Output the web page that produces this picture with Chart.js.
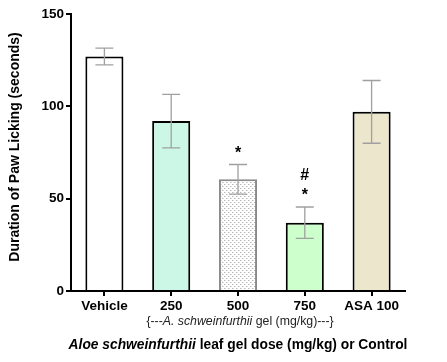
<!DOCTYPE html>
<html>
<head>
<meta charset="utf-8">
<script src="https://cdn.jsdelivr.net/npm/chart.js@4.4.1/dist/chart.umd.min.js"></script>
<style>
  body { margin: 0; background: #fff; }
  #wrap { width: 447px; height: 362px; }
</style>
</head>
<body>
<div id="wrap"><canvas id="myChart" width="447" height="362"></canvas></div>
<script>
// data
var groups = ['Vehicle', '250', '500', '750', 'ASA 100'];
var means = [127, 92, 60.5, 37, 97];
var sems = [4.5, 14.5, 8, 8.5, 17];
var marks = [[], [], ['*'], ['*', '#'], []];

var yTitle = 'Duration of Paw Licking (seconds)';
var subTitle = [['{---', ''], ['A. schweinfurthii', 'italic '], [' gel (mg/kg)---}', '']];
var xTitle = [['Aloe schweinfurthii', 'italic bold '], [' leaf gel dose (mg/kg) or Control', 'bold ']];

var FONT = 'Arial, "Liberation Sans", sans-serif';

function dotPattern() {
    var c = document.createElement('canvas');
    c.width = 4; c.height = 4;
    var g = c.getContext('2d');
    g.fillStyle = '#ffffff';
    g.fillRect(0, 0, 4, 4);
    g.fillStyle = '#b8b8b8';
    g.fillRect(0, 0, 1, 1);
    g.fillRect(2, 2, 1, 1);
    g.fillStyle = '#dcdcdc';
    g.fillRect(1, 0, 1, 1);
    g.fillRect(3, 2, 1, 1);
    return document.getElementById('myChart').getContext('2d').createPattern(c, 'repeat');
}

function drawMixed(ctx, parts, cx, y, size, color) {
    var total = 0;
    parts.forEach(function (p) {
        ctx.font = p[1] + size + 'px ' + FONT;
        total += ctx.measureText(p[0]).width;
    });
    var x = cx - total / 2;
    ctx.fillStyle = color;
    ctx.textBaseline = 'middle';
    ctx.textAlign = 'left';
    parts.forEach(function (p) {
        ctx.font = p[1] + size + 'px ' + FONT;
        ctx.fillText(p[0], x, y);
        x += ctx.measureText(p[0]).width;
    });
}

var extras = {
    id: 'extras',
    afterDatasetsDraw: function (chart) {
        var ctx = chart.ctx;
        var xs = chart.scales.x, ys = chart.scales.y;
        ctx.save();
        // error bars
        ctx.strokeStyle = '#a0a0a0';
        ctx.lineWidth = 1.3;
        for (var i = 0; i < means.length; i++) {
            var x = xs.getPixelForValue(i);
            var top = ys.getPixelForValue(means[i] + sems[i]);
            var bot = ys.getPixelForValue(means[i] - sems[i]);
            ctx.beginPath();
            ctx.moveTo(x, top); ctx.lineTo(x, bot);
            ctx.moveTo(x - 9, top); ctx.lineTo(x + 9, top);
            ctx.moveTo(x - 9, bot); ctx.lineTo(x + 9, bot);
            ctx.stroke();
            // significance marks
            ctx.fillStyle = '#000';
            ctx.textAlign = 'center';
            ctx.textBaseline = 'middle';
            ctx.font = 'bold 16px ' + FONT;
            for (var k = 0; k < marks[i].length; k++) {
                ctx.fillText(marks[i][k], x, top - 11 - k * 20);
            }
        }
        // axis titles
        ctx.save();
        ctx.translate(15, 147);
        ctx.rotate(-Math.PI / 2);
        ctx.fillStyle = '#000';
        ctx.font = 'bold 14px ' + FONT;
        ctx.textAlign = 'center';
        ctx.textBaseline = 'middle';
        ctx.fillText(yTitle, 0, 0);
        ctx.restore();
        drawMixed(ctx, subTitle, 240, 322, 12.3, '#222');
        drawMixed(ctx, xTitle, 238, 345, 13.8, '#000');
        ctx.restore();
    }
};

var ctx = document.getElementById('myChart').getContext('2d');
var myChart = new Chart(ctx, {
    type: 'bar',
    data: {
        labels: groups,
        datasets: [{
            data: means,
            backgroundColor: ['#ffffff', '#ccf7e6', dotPattern(), '#ccffcc', '#ece6cc'],
            borderColor: ['#000', '#000', '#8a8a8a', '#000', '#000'],
            borderWidth: 2,
            barPercentage: 0.57,
            categoryPercentage: 1.0
        }]
    },
    options: {
        responsive: false,
        animation: false,
        events: [],
        layout: { padding: { left: 0, top: 14, right: 42, bottom: 0 } },
        plugins: { legend: { display: false }, tooltip: { enabled: false } },
        scales: {
            x: {
                grid: { drawOnChartArea: false, offset: false, tickLength: 5, color: '#000', lineWidth: 2 },
                border: { color: '#000', width: 2 },
                ticks: { color: '#000', font: { family: FONT, size: 13.5, weight: 'bold' }, padding: 2, maxRotation: 0 },
                afterFit: function (s) { s.height = 71; }
            },
            y: {
                min: 0,
                max: 150,
                ticks: { stepSize: 50, color: '#000', font: { family: FONT, size: 13.5, weight: 'bold' }, padding: 2 },
                grid: { drawOnChartArea: false, tickLength: 5, color: '#000', lineWidth: 2 },
                border: { color: '#000', width: 2 },
                afterFit: function (s) { s.width = 71; }
            }
        }
    },
    plugins: [extras]
});
</script>
</body>
</html>
